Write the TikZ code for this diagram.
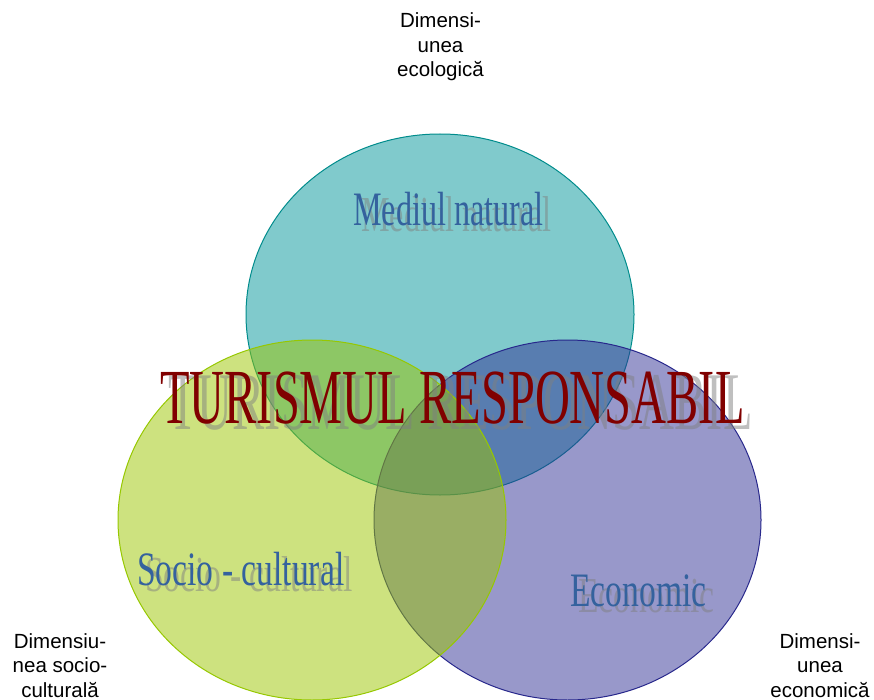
\documentclass[tikz,border=0pt]{standalone}
\usepackage{fontspec}
\setmainfont{Liberation Serif}
\newfontfamily\arialf{Liberation Sans}
\usetikzlibrary{shapes.geometric}
\definecolor{topc}{RGB}{1,149,153}
\definecolor{leftc}{RGB}{155,197,0}
\definecolor{rightc}{RGB}{49,49,149}
\definecolor{topd}{RGB}{0,140,140}
\definecolor{leftd}{RGB}{150,200,0}
\definecolor{rightd}{RGB}{40,40,140}
\definecolor{titlered}{RGB}{128,0,0}
\definecolor{labblue}{RGB}{52,98,158}
\definecolor{shgray}{RGB}{128,128,128}
\tikzset{
  circ/.style={ellipse, inner sep=0pt, outer sep=0pt, line width=1pt, fill opacity=0.5},
  big/.style={anchor=base west, inner sep=0pt, font=\fontsize{78}{78}\selectfont},
  mid/.style={anchor=base west, inner sep=0pt, font=\fontsize{48}{48}\selectfont},
  shadow/.style={text=shgray, text opacity=0.5},
  dim/.style={align=center, inner sep=0pt, font=\arialf\fontsize{20.5}{24.5}\selectfont, anchor=base}
}
\begin{document}
\begin{tikzpicture}[x=1pt,y=-1pt]
\useasboundingbox (0,0) rectangle (874,700);
% circles
\node[circ, draw=topd, fill=topc, minimum width=388pt, minimum height=361pt] (eco) at (440,314.5) {};
\node[circ, draw=rightd, fill=rightc, minimum width=387pt, minimum height=360pt] (econ) at (567.5,520) {};
\node[circ, draw=leftd, fill=leftc, minimum width=388pt, minimum height=360pt] (soc) at (312,520) {};
% inner labels
\node[mid, shadow] (mns) at (361,232) {\scalebox{0.67}[1.05]{Mediul natural}};
\node[mid, text=labblue] (mn) at (353,226) {\scalebox{0.67}[1]{Mediul natural}};
\node[mid, shadow] (scs) at (145,591) {\scalebox{0.70}[1.05]{Socio - cultural}};
\node[mid, text=labblue] (sc) at (137,585) {\scalebox{0.70}[1]{Socio - cultural}};
\node[mid, shadow] (ecs) at (578,612) {\scalebox{0.70}[1.05]{Economic}};
\node[mid, text=labblue] (ec) at (570,606) {\scalebox{0.70}[1]{Economic}};
% title
\node[big, shadow] (tts) at (168,429) {\scalebox{0.62}[1.05]{TURISMUL RESPONSABIL}};
\node[big, text=titlered] (tt) at (160,423) {\scalebox{0.62}[1]{TURISMUL RESPONSABIL}};
% dimension labels
\node[dim] (d1) at (440.5,77) {Dimensi-\\unea\\ecologică};
\node[dim] (d2) at (60,697) {Dimensiu-\\nea socio-\\culturală};
\node[dim] (d3) at (820,697) {Dimensi-\\unea\\economică};
\end{tikzpicture}
\end{document}
